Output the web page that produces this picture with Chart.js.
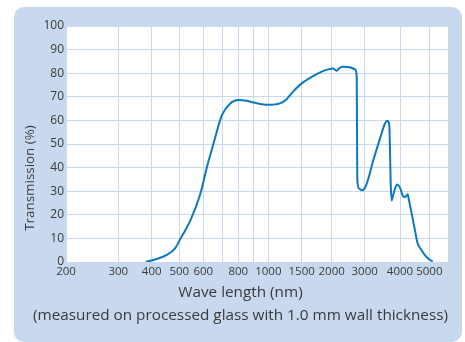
<!DOCTYPE html>
<html><head><meta charset="utf-8">
<script src="https://cdn.jsdelivr.net/npm/chart.js@4/dist/chart.umd.min.js"></script>
<style>html,body{margin:0;padding:0;background:#fff}#wrap{width:465px;height:342px;position:relative}</style>
</head><body><div id="wrap"><canvas id="c" width="465" height="342"></canvas></div>
<script>
// ---- data ----
const wavelengths = [380,416,452,484,504,544,587,618,652,698,748,800,853,900,1000,1150,1245,1347,1500,1672,1839,2032,2134,2186,2295,2494,2663,2720,2739,2807,2891,3009,3089,3218,3398,3540,3607,3666,3687,3708,3739,3769,3840,3913,4000,4083,4155,4242,4274,4373,4484,4563,4719,4902,5130];
const transmission = [0,1.3,3.0,5.9,9.8,17.6,29,40.3,50.2,62.2,67.2,68.6,68.3,67.6,66.6,67.2,68.9,72.1,75.7,78.8,80.9,82.0,81.0,82.0,82.7,82.5,81.7,79,34.6,31.1,30.4,31.5,35.3,43.1,52.3,58.7,59.8,58,47.3,33.2,26.1,27.5,31.1,32.8,31.5,28.2,27.5,28.7,26.8,20.5,13.4,8.4,4.9,2.0,0.2];
const axisWavelengths = [200,300,400,500,600,700,800,900,1000,1500,2000,3000,4000,5000];
const axisLabels = ['200','300','400','500','600','','800','','1000','1500','2000','3000','4000','5000'];
// the reference's non-uniform wavelength axis: stop of each gridline along the axis
const axisStops = [0,52.3,85.7,113.3,137.3,156.3,172.3,187.5,202.3,235.7,265.7,298.7,334,363.3];
const axisEnd = 382;
const yMin = 0, yMax = 100, yStep = 10;
const yTitle = 'Transmission (%)';
const xTitle = 'Wave length (nm)';
const xNote = '(measured on processed glass with 1.0 mm wall thickness)';

function warp(w) {
  let i = 0;
  while (i < axisWavelengths.length - 2 && w > axisWavelengths[i + 1]) i++;
  const w0 = axisWavelengths[i], w1 = axisWavelengths[i + 1];
  const p0 = axisStops[i], p1 = axisStops[i + 1];
  return p0 + (p1 - p0) * Math.log(w / w0) / Math.log(w1 / w0);
}

const FONT = 'Open Sans';
const TEXT = '#3a3a3a';
const GRID = '#c9d8ee';
const PANEL = '#c8d8ee';

const bgPlugin = {
  id: 'bg',
  beforeDraw(chart) {
    const ctx = chart.ctx;
    ctx.save();
    ctx.fillStyle = '#ffffff';
    ctx.fillRect(0, 0, chart.width, chart.height);
    ctx.fillStyle = PANEL;
    ctx.beginPath();
    ctx.roundRect(14, 7, 448, 335, 10);
    ctx.fill();
    const a = chart.chartArea;
    ctx.fillStyle = '#ffffff';
    ctx.fillRect(a.left, a.top, a.right - a.left, a.bottom - a.top);
    ctx.restore();
  }
};

new Chart(document.getElementById('c'), {
  type: 'line',
  data: {
    datasets: [{
      data: wavelengths.map((w, i) => ({ x: warp(w), y: transmission[i] })),
      borderColor: '#0b78c1',
      borderWidth: 2,
      pointRadius: 0,
      cubicInterpolationMode: 'monotone',
      fill: false
    }]
  },
  options: {
    responsive: false,
    animation: false,
    devicePixelRatio: 1,
    layout: { padding: { left: 16, top: 23, right: 0, bottom: 9 } },
    plugins: {
      legend: { display: false },
      tooltip: { enabled: false },
      title: {
        display: true, position: 'left', text: yTitle, color: TEXT,
        font: { family: FONT, size: 13.4, weight: 'normal', lineHeight: 1.2 },
        padding: { top: 6.46, bottom: 0 }
      },
      subtitle: {
        display: true, position: 'bottom', text: [xTitle, xNote], color: TEXT,
        font: { family: FONT, size: 15.3, weight: 'normal', lineHeight: 23 / 15.3 },
        padding: { top: 3.5, bottom: 5.5 }
      }
    },
    scales: {
      x: {
        type: 'linear', min: 0, max: axisEnd,
        grid: { color: GRID, lineWidth: 1, drawTicks: false },
        border: { display: false },
        afterBuildTicks: s => { s.ticks = axisStops.map(v => ({ value: v })); },
        ticks: {
          autoSkip: false, maxRotation: 0, padding: 3, color: TEXT,
          font: { family: FONT, size: 11.5 },
          callback: (v, i) => axisLabels[i]
        },
        afterFit: s => { s.height = 16; s.paddingRight = 17; s.paddingLeft = 0; }
      },
      y: {
        min: yMin, max: yMax,
        grid: { color: GRID, lineWidth: 1, drawTicks: false },
        border: { display: false },
        ticks: { stepSize: yStep, padding: 2, color: TEXT, font: { family: FONT, size: 12 } },
        afterFit: s => { s.width = 27.46; s.paddingTop = 26; }
      }
    }
  },
  plugins: [bgPlugin]
});
</script></body></html>
